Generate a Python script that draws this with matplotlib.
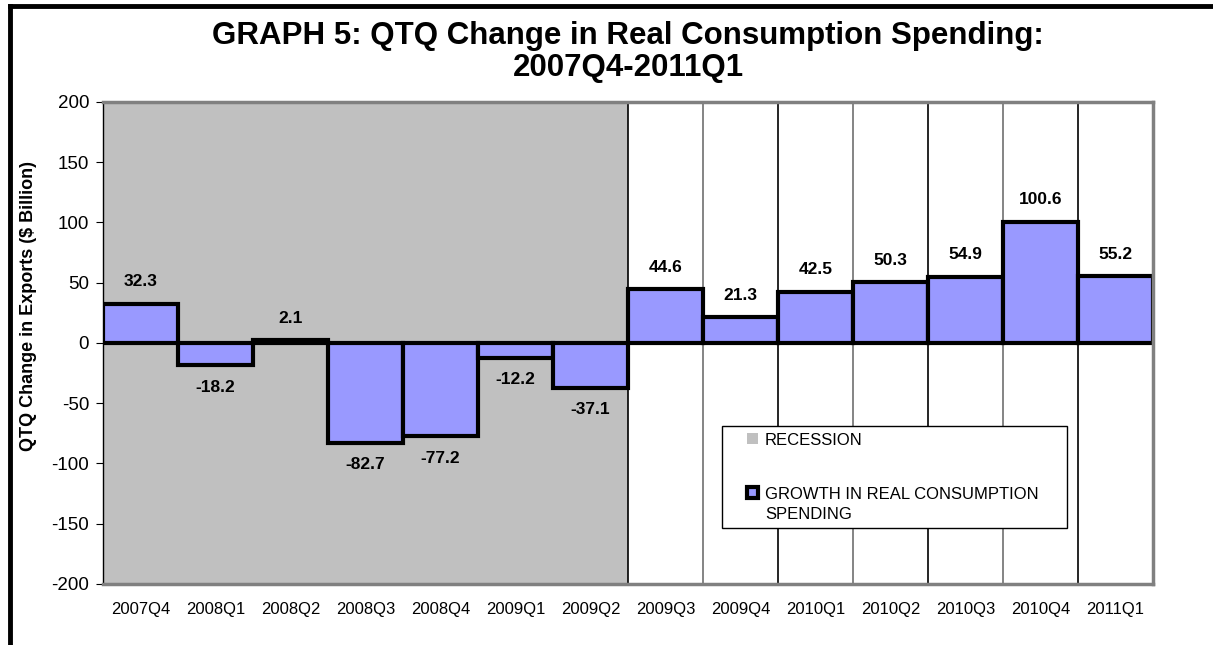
import matplotlib.pyplot as plt
from matplotlib.patches import Patch, Rectangle
from matplotlib.lines import Line2D
from matplotlib.legend_handler import HandlerPatch

plt.rcParams['font.family'] = ['Liberation Sans', 'DejaVu Sans']

quarters = ['2007Q4', '2008Q1', '2008Q2', '2008Q3', '2008Q4', '2009Q1', '2009Q2',
            '2009Q3', '2009Q4', '2010Q1', '2010Q2', '2010Q3', '2010Q4', '2011Q1']
growth = [32.3, -18.2, 2.1, -82.7, -77.2, -12.2, -37.1,
          44.6, 21.3, 42.5, 50.3, 54.9, 100.6, 55.2]
recession = [1, 1, 1, 1, 1, 1, 1, 0, 0, 0, 0, 0, 0, 0]

fig = plt.figure(figsize=(12.13, 6.45), dpi=100)
ax = fig.add_axes([0.0849, 0.0946, 0.8656, 0.7473])

x = list(range(len(quarters)))

# recession shading, full height
rec_h = [400 * r for r in recession]
ax.bar(x, rec_h, width=1.0, bottom=-200, color='#C0C0C0', zorder=0)

# category separators in the non-recession part
for i, r in enumerate(recession):
    if r == 0:
        ax.axvline(i - 0.5, color='black' if i % 2 else '#707070', lw=1.2, zorder=1)

ax.axhline(0, color='black', lw=2, zorder=2)
ax.bar(x, growth, width=1.0, color='#9999FF', edgecolor='black', linewidth=3, zorder=3)

for i, v in enumerate(growth):
    off = 16 if v >= 0 else -16
    ax.annotate(f'{v:.1f}', (i, v), xytext=(0, off), textcoords='offset points',
                ha='center', va='center', fontsize=12.5, fontweight='bold', zorder=4)

ax.set_xlim(-0.5, len(quarters) - 0.5)
ax.set_ylim(-200, 200)
ax.set_yticks(range(-200, 201, 50))
ax.set_yticklabels([str(v) for v in range(-200, 201, 50)])
ax.set_xticks(x)
ax.set_xticklabels(quarters, fontsize=12)
ax.tick_params(axis='x', length=0, pad=13)
ax.tick_params(axis='y', labelsize=13.5, direction='out', length=5, pad=5, color='black')

ax.spines['left'].set_color('black')
ax.spines['left'].set_linewidth(1)
for s in ['top', 'right', 'bottom']:
    ax.spines[s].set_color('#808080')
    ax.spines[s].set_linewidth(2.5)
for s in ax.spines.values():
    s.set_zorder(5)

ax.set_ylabel('QTQ Change in Exports ($ Billion)', fontsize=13, fontweight='bold')
ax.yaxis.set_label_coords(-0.063, 0.577)
ax.set_title('GRAPH 5: QTQ Change in Real Consumption Spending:\n2007Q4-2011Q1',
             fontsize=22.5, fontweight='bold', pad=19, linespacing=1.05)


def small_square(legend, orig_handle, xdescent, ydescent, width, height, fontsize):
    # square sits at the right end of the handle box, next to the first text line
    shift = 8.5 if orig_handle.get_gid() == 'growth' else 0
    return Rectangle((width - height - xdescent, -ydescent + shift), height, height)


rec_patch = Patch(facecolor='#C0C0C0', edgecolor='none')
gr_patch = Patch(facecolor='#9999FF', edgecolor='black', linewidth=3)
gr_patch.set_gid('growth')
leg = fig.legend([rec_patch, gr_patch], ['RECESSION', 'GROWTH IN REAL CONSUMPTION\nSPENDING'],
                 loc='upper left', bbox_to_anchor=(0.595, 0.2395, 0.285, 0.1),
                 mode='expand', fontsize=12, frameon=True, fancybox=False,
                 edgecolor='black', framealpha=1, borderaxespad=0,
                 handlelength=1.8, handleheight=0.65, handletextpad=0.4,
                 labelspacing=2.35, borderpad=0.4,
                 handler_map={Patch: HandlerPatch(patch_func=small_square)})
leg.get_frame().set_linewidth(1)
for t in leg.get_texts():
    t.set_linespacing(1.4)

# outer frame: left and top edges only
fig.add_artist(Line2D([0.0085, 0.0085], [0.0, 0.991], transform=fig.transFigure,
                      color='black', lw=3.5))
fig.add_artist(Line2D([0.0085, 1.0], [0.991, 0.991], transform=fig.transFigure,
                      color='black', lw=3.5))

fig.savefig('out.png', dpi=100)
